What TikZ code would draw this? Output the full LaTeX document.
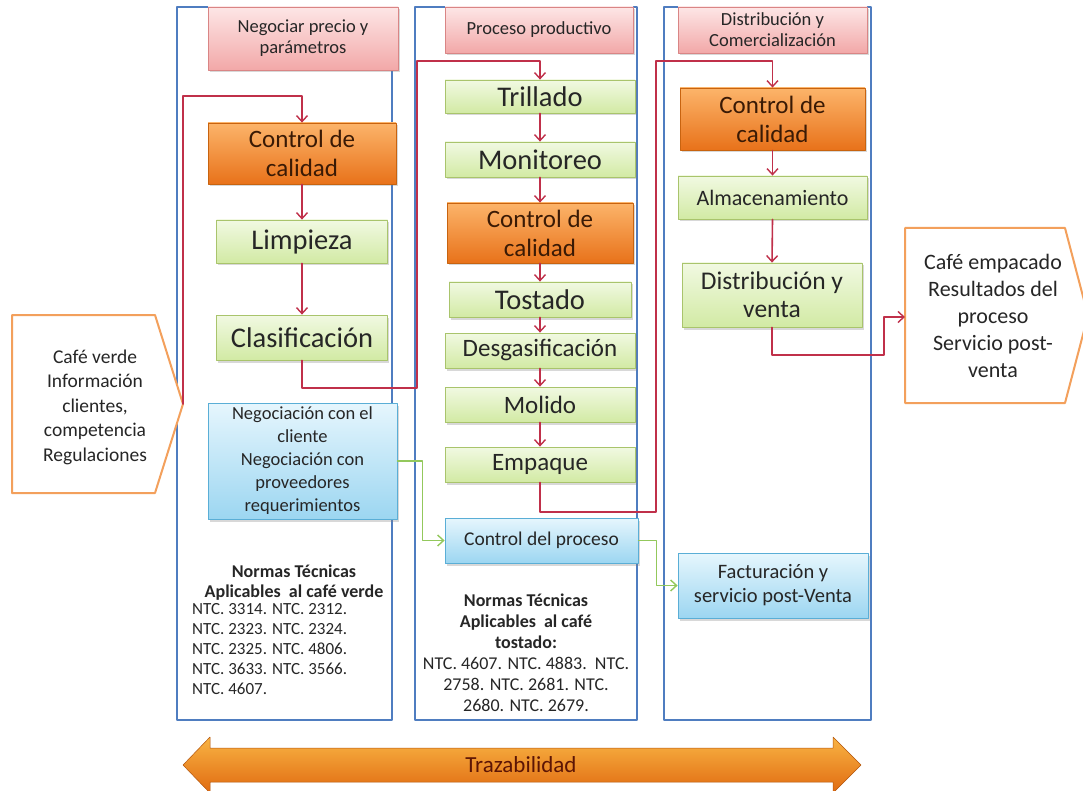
\documentclass[tikz,border=0pt]{standalone}
\usepackage{fontspec}
\setmainfont{Carlito}
\usepackage{tikz}
\usetikzlibrary{arrows.meta,shadows,calc}
\definecolor{lanecol}{HTML}{4F7DC0}
\definecolor{txtcol}{HTML}{262626}
\definecolor{headline}{HTML}{D98585}
\definecolor{headtop}{HTML}{FDE6E6}
\definecolor{headbot}{HTML}{F2A8A8}
\definecolor{stepline}{HTML}{A9C46C}
\definecolor{steptop}{HTML}{F1F9E2}
\definecolor{stepbot}{HTML}{D2EAA4}
\definecolor{qcline}{HTML}{C8630F}
\definecolor{qctop}{HTML}{FCB46A}
\definecolor{qcbot}{HTML}{E8721A}
\definecolor{qctext}{HTML}{3A1A05}
\definecolor{infoline}{HTML}{5AAED6}
\definecolor{infotop}{HTML}{E6F6FD}
\definecolor{infobot}{HTML}{9CD6F1}
\definecolor{ioline}{HTML}{F3A05C}
\definecolor{flowred}{HTML}{C0304A}
\definecolor{flowgreen}{HTML}{93C85C}
\definecolor{trztop}{HTML}{F9B444}
\definecolor{trzbot}{HTML}{E06A10}
\definecolor{trztext}{HTML}{5C1505}
\newcommand\fsz[2]{\fontsize{#1}{#2}\selectfont}

\begin{document}
\begin{tikzpicture}[line cap=round,line join=round,>={Straight Barb[length=6pt,width=11pt,line width=1.4pt]},x=1pt,y=-1pt,
  lane/.style={draw=lanecol,line width=1.3pt},
  boxbase/.style={rectangle,inner sep=0pt,align=center,text=txtcol,line width=.8pt,
    drop shadow={shadow xshift=1.5pt,shadow yshift=-2.5pt,opacity=.3}},
  headbox/.style={boxbase,draw=headline,top color=headtop,bottom color=headbot,font=\fsz{18.5}{21}},
  stepbox/.style={boxbase,draw=stepline,top color=steptop,bottom color=stepbot,font=\fsz{28.5}{32}},
  qcbox/.style={boxbase,draw=qcline,top color=qctop,bottom color=qcbot,text=qctext,font=\fsz{25}{29}},
  infobox/.style={boxbase,draw=infoline,top color=infotop,bottom color=infobot,font=\fsz{18.5}{23}},
  iobox/.style={draw=ioline,line width=2pt,fill=white},
  iotext/.style={inner sep=0pt,align=center,text=txtcol},
  normtext/.style={text=txtcol,inner sep=0pt,font=\fsz{17}{20}},
  redflow/.style={draw=flowred,line width=1.6pt,->},
  greenflow/.style={draw=flowgreen,line width=1.2pt,->}]
\useasboundingbox (0,0) rectangle (1083,791);
\fill[white] (0,0) rectangle (1083,791);

\draw[lane] (177,7) rectangle (392,720);
\draw[lane] (415,7) rectangle (637,720);
\draw[lane] (664,7) rectangle (871,720);

\node[headbox,minimum width=190,minimum height=63] (h1) at (303,38.5) {Negociar precio y\\parámetros};
\node[headbox,minimum width=188,minimum height=46] (h2) at (539,30) {Proceso productivo};
\node[headbox,minimum width=189,minimum height=46] (h3) at (772.5,30) {Distribución y\\Comercialización};

\node[qcbox,minimum width=188,minimum height=61] (cc1) at (302,153.5) {Control de\\calidad};
\node[stepbox,minimum width=171,minimum height=43] (lim) at (302,241.5) {Limpieza};
\node[stepbox,minimum width=171,minimum height=45] (cla) at (302,337.5) {Clasificación};
\node[infobox,minimum width=189,minimum height=116] (neg) at (302.5,461) {Negociación con el\\cliente\\Negociación con\\proveedores\\requerimientos};

\node[stepbox,minimum width=190,minimum height=33] (tri) at (540,96.5) {Trillado};
\node[stepbox,minimum width=190,minimum height=35] (mon) at (540,159.5) {Monitoreo};
\node[qcbox,minimum width=186,minimum height=60] (cc2) at (540,233) {Control de\\calidad};
\node[stepbox,minimum width=182,minimum height=35] (tos) at (540,299.5) {Tostado};
\node[stepbox,minimum width=190,minimum height=35,font=\fsz{25}{29}] (des) at (540,350.5) {Desgasificación};
\node[stepbox,minimum width=190,minimum height=35,font=\fsz{25}{29}] (mol) at (540,404.5) {Molido};
\node[stepbox,minimum width=190,minimum height=35,font=\fsz{25}{29}] (emp) at (540,464.5) {Empaque};
\node[infobox,minimum width=193,minimum height=45,font=\fsz{19.5}{23}] (cp) at (541.5,540.5) {Control del proceso};

\node[qcbox,minimum width=185,minimum height=62] (cc3) at (772.5,119) {Control de\\calidad};
\node[stepbox,minimum width=189,minimum height=43,font=\fsz{22}{26}] (alm) at (772.5,197.5) {Almacenamiento};
\node[stepbox,minimum width=180,minimum height=64,font=\fsz{25.5}{28}] (dis) at (772,295) {Distribución y\\venta};
\node[infobox,minimum width=190,minimum height=65,font=\fsz{20.5}{24}] (fac) at (773,585.5) {Facturación y\\servicio post-Venta};

\draw[iobox] (12,315) -- (155,315) -- (183,404) -- (155,493) -- (12,493) -- cycle;
\node[iotext,font=\fsz{19.5}{24.5}] (in) at (95,407) {Café verde\\Información\\clientes,\\competencia\\Regulaciones};
\draw[iobox] (905,228) -- (1065,228) -- (1088,315.5) -- (1065,403) -- (905,403) -- cycle;
\node[iotext,font=\fsz{22}{27}] (out) at (993,316) {Café empacado\\Resultados del\\proceso\\Servicio post-\\venta};

\node[normtext,font=\bfseries\fsz{18}{20},align=center] (nor1) at (294,583) {Normas Técnicas\\Aplicables\ \ al café verde};
\node[normtext,align=left,anchor=west] (ntc1) at (192,649.5) {NTC. 3314. NTC. 2312.\\NTC. 2323. NTC. 2324.\\NTC. 2325. NTC. 4806.\\NTC. 3633. NTC. 3566.\\NTC. 4607.};
\node[normtext,align=center,font=\fsz{18}{21}] (nor2) at (526,653) {\textbf{Normas Técnicas}\\\textbf{Aplicables\ \ al café}\\\textbf{tostado:}\\NTC. 4607. NTC. 4883.\ \ NTC.\\2758. NTC. 2681. NTC.\\2680. NTC. 2679.};

\shade[top color=trztop,bottom color=trzbot,draw=trzbot!80!black,line width=.5pt] (183,765) -- (210,737) -- (210,748) -- (833,748) -- (833,737) -- (861,765) -- (833,793) -- (833,782) -- (210,782) -- (210,793) -- cycle;
\node[text=trztext,font=\fsz{23}{27}] (trz) at (521,765) {Trazabilidad};

\coordinate (intip) at (183,404);
\coordinate (outin) at (905,317);
\coordinate (a1) at (183,96);
\coordinate (a2) at (417,388);
\coordinate (a3) at (417,61);
\coordinate (a4) at (656,512);
\coordinate (a5) at (656,61);
\coordinate (a6) at (884,355);
\draw[redflow] (intip) -- (a1) -| (cc1.north);
\draw[redflow] (cc1.south) -- (lim.north);
\draw[redflow] (lim.south) -- (cla.north);
\draw[redflow] (cla.south) |- (a2) -- (a3) -| (tri.north);
\foreach \a/\b in {tri/mon,mon/cc2,cc2/tos,tos/des,des/mol,mol/emp}
  \draw[redflow] (\a.south) -- (\b.north);
\draw[redflow] (emp.south) |- (a4) -- (a5) -| (cc3.north);
\draw[redflow] (cc3.south) -- (alm.north);
\draw[redflow] (alm.south) -- (dis.north);
\draw[redflow] (dis.south) |- (a6) |- (outin);
\draw[greenflow] (neg.east) -- ++(25,0) |- (cp.west);
\draw[greenflow] (cp.east) -- ++(18,0) |- (fac.west);
\end{tikzpicture}
\end{document}
